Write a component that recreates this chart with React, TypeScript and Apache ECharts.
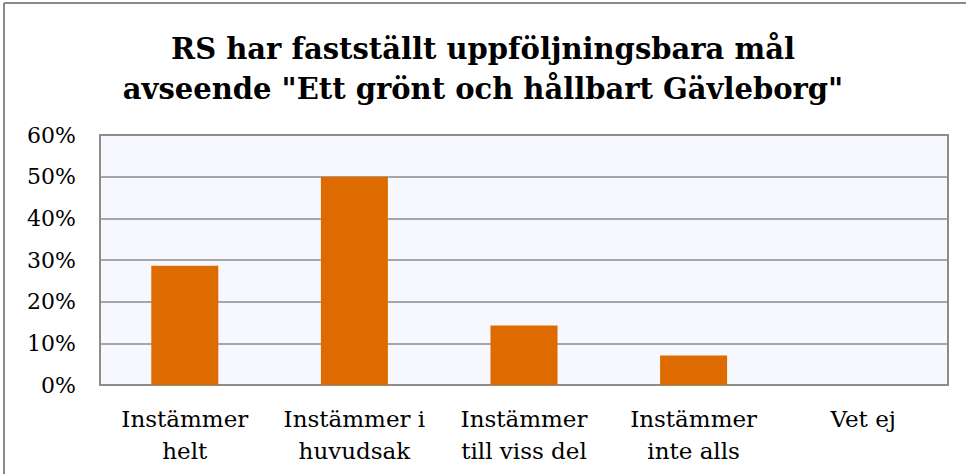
import React, { useEffect, useRef } from "react";
import * as echarts from "echarts";

const titleLines = ["RS har fastställt uppföljningsbara mål", 'avseende "Ett grönt och hållbart Gävleborg"'];
const categories = ["Instämmer\nhelt", "Instämmer i\nhuvudsak", "Instämmer\ntill viss del", "Instämmer\ninte alls", "Vet ej"];
const values = [28.6, 50, 14.3, 7.1, 0];
const yTicks = { min: 0, max: 60, interval: 10 };

const FONT = "'DejaVu Serif', Georgia, serif";

export default function App() {
  const ref = useRef<HTMLDivElement>(null);
  useEffect(() => {
    if (!ref.current) return;
    const chart = echarts.init(ref.current, undefined, { renderer: "svg" });
    chart.setOption({
      animation: false,
      backgroundColor: "#ffffff",
      title: {
        text: titleLines.join("\n"),
        left: "center",
        top: 24,
        textStyle: { fontFamily: FONT, fontWeight: "bold", fontSize: 29, lineHeight: 40, color: "#000" },
      },
      graphic: [
        { type: "line", shape: { x1: 4, y1: 3, x2: 4, y2: 480 }, style: { stroke: "#8a8a8a", lineWidth: 2 } },
        { type: "line", shape: { x1: 4, y1: 3, x2: 970, y2: 3 }, style: { stroke: "#8a8a8a", lineWidth: 2 } },
      ],
      grid: {
        left: 100,
        right: 18,
        top: 135,
        bottom: 89,
        show: true,
        backgroundColor: "#F7F8FD",
        borderColor: "#8c8c8c",
        borderWidth: 2,
      },
      xAxis: {
        type: "category",
        data: categories,
        axisLine: { lineStyle: { color: "#8c8c8c", width: 2 } },
        axisTick: { inside: true, length: 6, lineStyle: { color: "#8c8c8c", width: 2 } },
        axisLabel: { interval: 0, fontFamily: FONT, fontSize: 23, lineHeight: 32, margin: 18, color: "#000" },
      },
      yAxis: {
        type: "value",
        min: yTicks.min,
        max: yTicks.max,
        interval: yTicks.interval,
        axisLine: { show: true, lineStyle: { color: "#8c8c8c", width: 2 } },
        axisTick: { show: false },
        splitLine: { lineStyle: { color: "#8c8c8c", width: 1.5 } },
        axisLabel: { formatter: "{value}%", fontFamily: FONT, fontSize: 22, margin: 24, color: "#000" },
      },
      series: [
        {
          type: "bar",
          data: values,
          barWidth: 67,
          itemStyle: { color: "#DD6B00" },
        },
      ],
    });
    return () => chart.dispose();
  }, []);
  return <div ref={ref} style={{ position: "fixed", left: 0, top: 0, width: 966, height: 474 }} />;
}
